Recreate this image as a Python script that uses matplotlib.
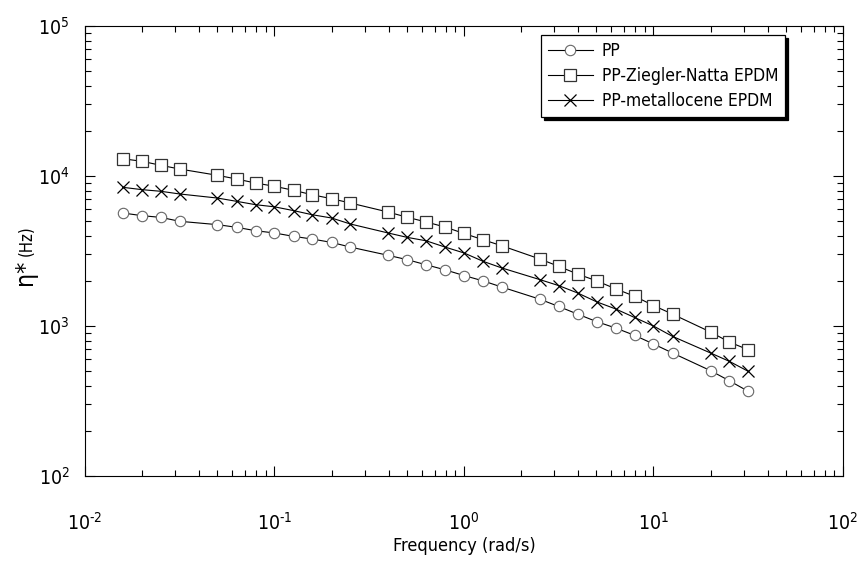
import numpy as np
import matplotlib
matplotlib.use("Agg")
import matplotlib.pyplot as plt
import matplotlib.font_manager as fm
from matplotlib.ticker import LogLocator, FuncFormatter

# Frequency (rad/s) and complex viscosity for the three materials
freq = [0.0158, 0.02, 0.0251, 0.0316, 0.05, 0.0631, 0.0794, 0.1, 0.126, 0.158,
        0.2, 0.251, 0.398, 0.501, 0.631, 0.794, 1.0, 1.26, 1.58, 2.51,
        3.16, 3.98, 5.01, 6.31, 7.94, 10.0, 12.6, 20.0, 25.1, 31.6]

eta_pp = [5670, 5440, 5300, 4990, 4740, 4550, 4320, 4170, 3960, 3800,
          3610, 3360, 2960, 2770, 2560, 2370, 2170, 2000, 1820, 1510,
          1350, 1200, 1070, 970, 867, 759, 661, 504, 432, 367]

eta_zn = [13040, 12530, 11790, 11130, 10110, 9550, 8980, 8540, 8030, 7500,
          7060, 6610, 5750, 5310, 4940, 4570, 4140, 3760, 3430, 2800,
          2500, 2220, 2000, 1770, 1580, 1370, 1200, 912, 782, 695]

eta_met = [8410, 8110, 7910, 7590, 7130, 6780, 6440, 6230, 5880, 5520,
           5250, 4790, 4170, 3900, 3700, 3360, 3070, 2700, 2440, 2040,
           1860, 1660, 1450, 1300, 1140, 1000, 853, 661, 582, 499]

labels = ["PP", "PP-Ziegler-Natta EPDM", "PP-metallocene EPDM"]

# look for a narrow sans face, the original uses a condensed font
narrow = None
for f in fm.fontManager.ttflist:
    fn = f.fname.lower()
    if ('condensed' in fn or 'narrow' in fn) and 'bold' not in fn \
            and 'oblique' not in fn and 'italic' not in fn and 'mono' not in fn \
            and 'serif' not in fn.replace('sans', ''):
        narrow = f
        break

if narrow is not None:
    fam = narrow.name
    stretch = narrow.stretch
else:
    fam = 'Liberation Sans'
    stretch = 'normal'

plt.rcParams['font.family'] = [fam, 'DejaVu Sans']
plt.rcParams['font.stretch'] = stretch
plt.rcParams['mathtext.fontset'] = 'custom'
pattern = f'{fam}:stretch={stretch}'
plt.rcParams['mathtext.rm'] = pattern
plt.rcParams['mathtext.it'] = pattern
plt.rcParams['mathtext.bf'] = pattern


def pow10(v, pos):
    # short hyphen in the exponent, as in the original
    e = int(round(np.log10(v)))
    s = str(abs(e))
    if e < 0:
        s = '\u2010' + s
    return r'$\mathregular{10^{%s}}$' % s


fig = plt.figure(figsize=(8.63, 5.63), dpi=100)
ax = fig.add_axes([0.0985, 0.1545, 0.8783, 0.7993])

ax.plot(freq, eta_pp, color='black', lw=0.8, marker='o', ms=7.5,
        mfc='white', mec='#666666', mew=0.8, label=labels[0])
ax.plot(freq, eta_zn, color='black', lw=0.8, marker='s', ms=8.5,
        mfc='white', mec='#333333', mew=0.9, label=labels[1])
ax.plot(freq, eta_met, color='black', lw=0.8, marker='x', ms=8.5,
        mec='black', mew=0.9, label=labels[2])

ax.set_xscale('log')
ax.set_yscale('log')
ax.set_xlim(1e-2, 1e2)
ax.set_ylim(1e2, 1e5)

ax.xaxis.set_major_locator(LogLocator(base=10, numticks=10))
ax.yaxis.set_major_locator(LogLocator(base=10, numticks=10))
ax.xaxis.set_minor_locator(LogLocator(base=10, subs=np.arange(2, 10), numticks=20))
ax.yaxis.set_minor_locator(LogLocator(base=10, subs=np.arange(2, 10), numticks=20))
ax.xaxis.set_major_formatter(FuncFormatter(pow10))
ax.yaxis.set_major_formatter(FuncFormatter(pow10))

ax.tick_params(which='both', direction='in', top=True, right=True, width=0.8)
ax.tick_params(which='major', length=7, labelsize=14)
ax.tick_params(which='minor', length=4)
ax.tick_params(axis='x', which='major', pad=26)
ax.tick_params(axis='y', which='major', pad=11)

for s in ax.spines.values():
    s.set_linewidth(0.8)

ax.set_xlabel('Frequency (rad/s)', fontsize=13, labelpad=2)
ax.text(-0.079, 0.48, 'η*', rotation=90, fontsize=18, transform=ax.transAxes,
        ha='center', va='top')
ax.text(-0.077, 0.49, '(Hz)', rotation=90, fontsize=12, transform=ax.transAxes,
        ha='center', va='bottom')

leg = ax.legend(loc='upper right', bbox_to_anchor=(0.9235, 0.98), fontsize=12.5,
                frameon=True, fancybox=False, shadow={'color': 'black', 'alpha': 1},
                edgecolor='black', borderpad=0.4, handlelength=2.6,
                handletextpad=0.5, labelspacing=0.4, borderaxespad=0)
leg.get_frame().set_linewidth(0.9)

fig.savefig('out.png', dpi=100)
